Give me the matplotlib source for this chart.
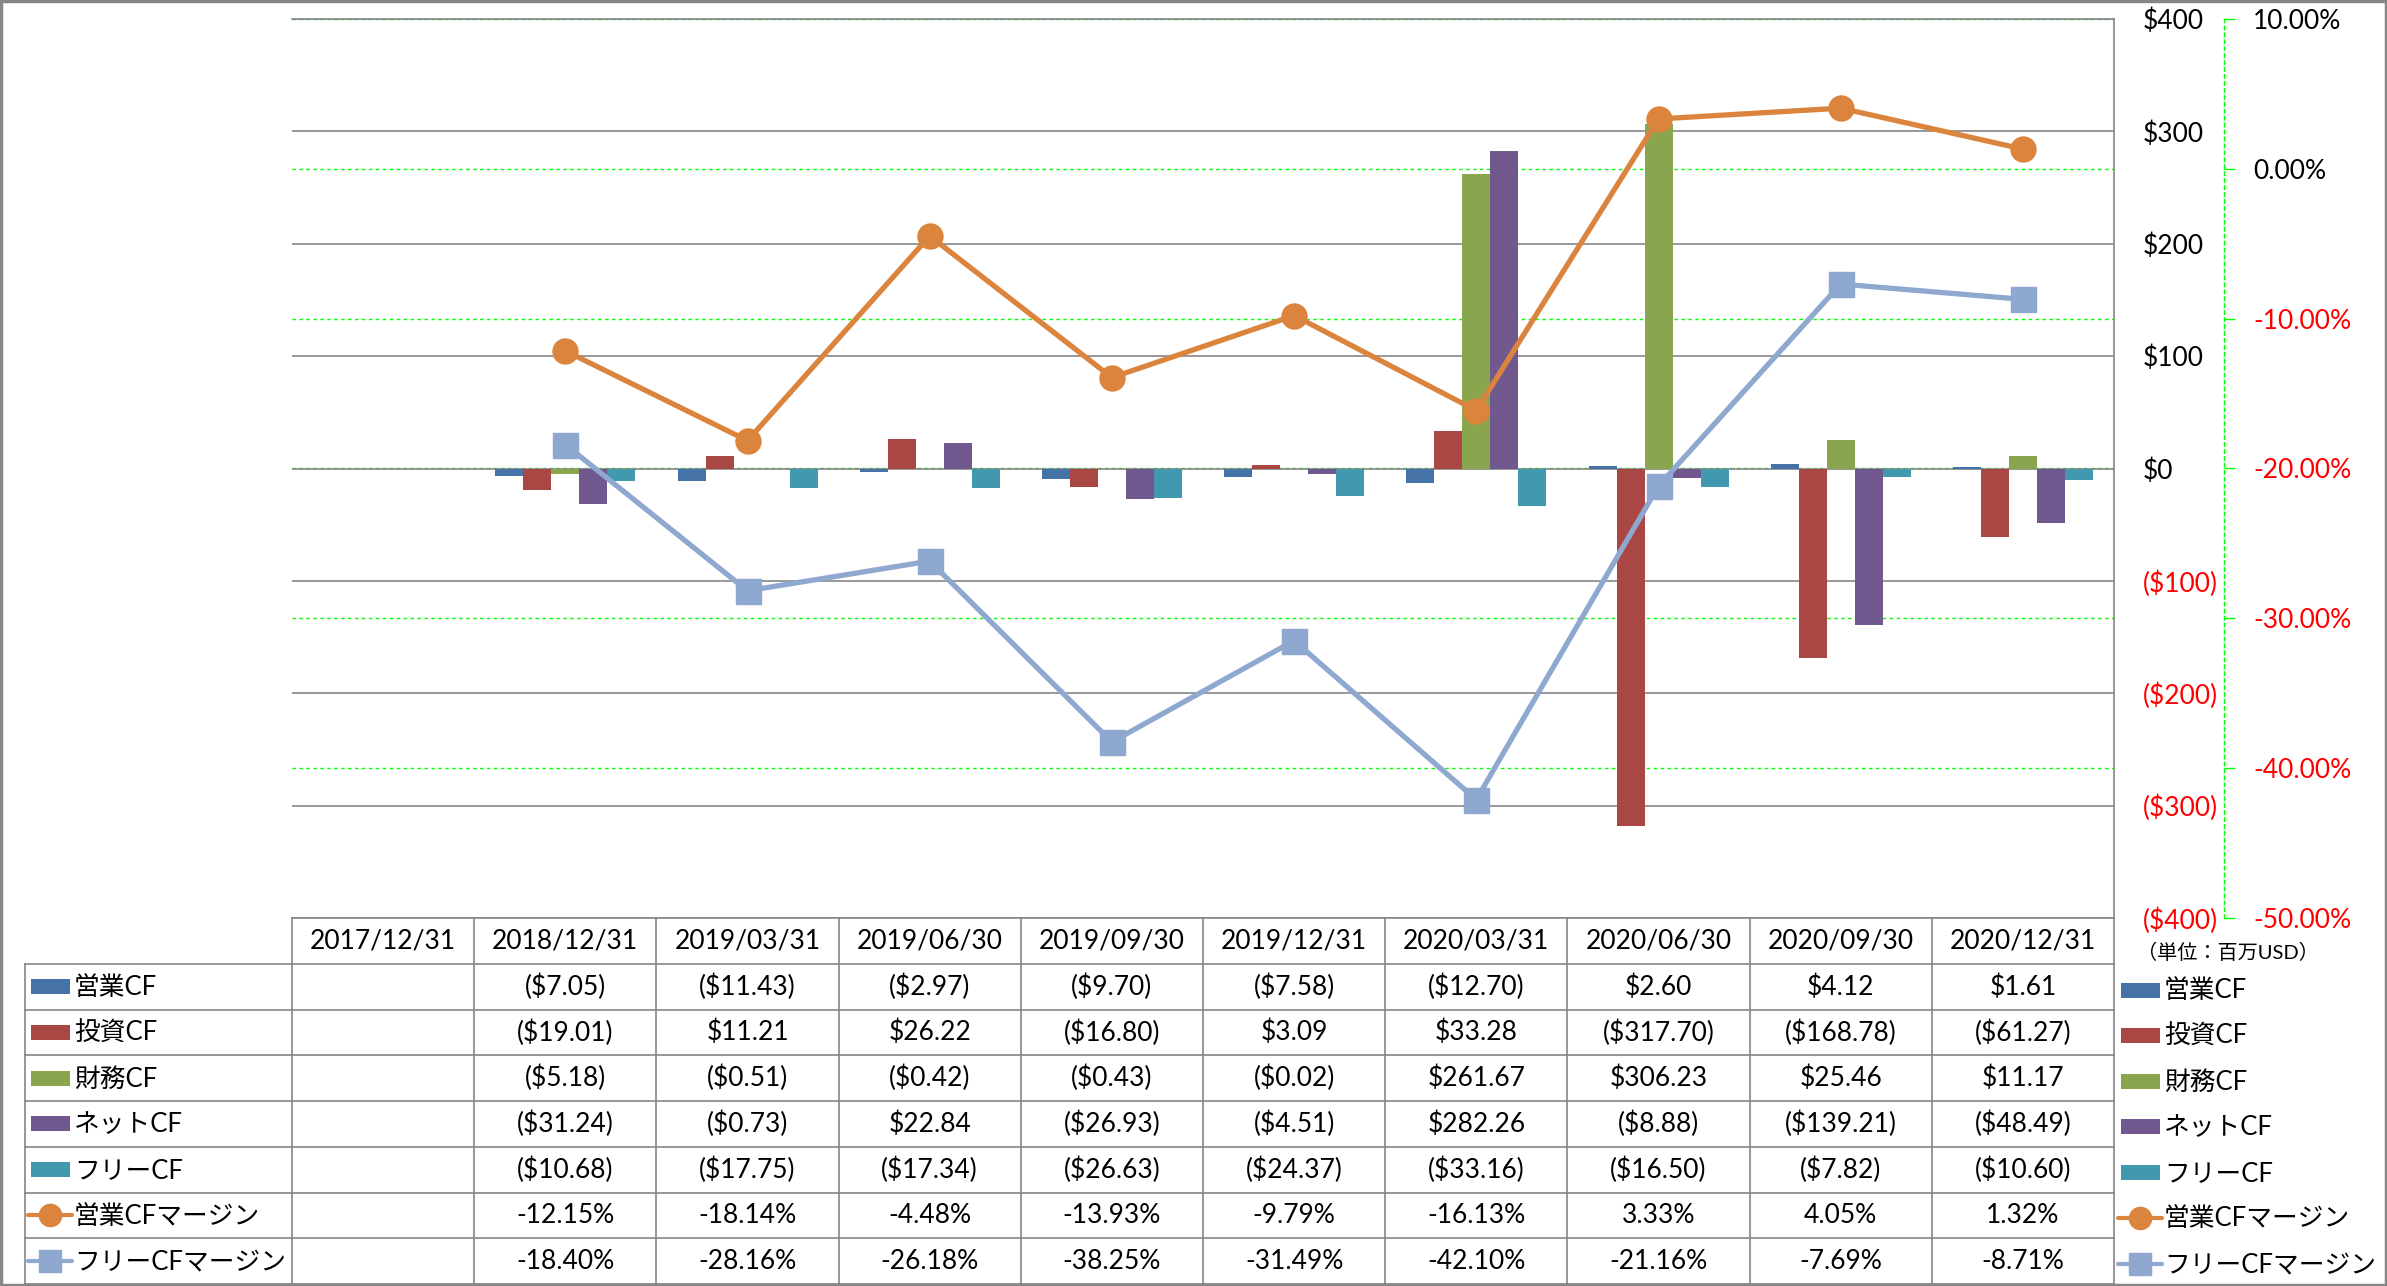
import numpy as np
import matplotlib
matplotlib.use("Agg")
import matplotlib.pyplot as plt
from matplotlib.transforms import blended_transform_factory
from matplotlib.patches import Rectangle

plt.rcParams['font.family'] = ['Lato', 'Noto Sans CJK JP', 'DejaVu Sans']

# ---- data ----
dates = ["2017/12/31", "2018/12/31", "2019/03/31", "2019/06/30", "2019/09/30",
         "2019/12/31", "2020/03/31", "2020/06/30", "2020/09/30", "2020/12/31"]
op_cf = [None, -7.05, -11.43, -2.97, -9.70, -7.58, -12.70, 2.60, 4.12, 1.61]
inv_cf = [None, -19.01, 11.21, 26.22, -16.80, 3.09, 33.28, -317.70, -168.78, -61.27]
fin_cf = [None, -5.18, -0.51, -0.42, -0.43, -0.02, 261.67, 306.23, 25.46, 11.17]
net_cf = [None, -31.24, -0.73, 22.84, -26.93, -4.51, 282.26, -8.88, -139.21, -48.49]
free_cf = [None, -10.68, -17.75, -17.34, -26.63, -24.37, -33.16, -16.50, -7.82, -10.60]
op_margin = [None, -12.15, -18.14, -4.48, -13.93, -9.79, -16.13, 3.33, 4.05, 1.32]
free_margin = [None, -18.40, -28.16, -26.18, -38.25, -31.49, -42.10, -21.16, -7.69, -8.71]

bar_names = ["営業CF", "投資CF", "財務CF", "ネットCF", "フリーCF"]
bar_series = [op_cf, inv_cf, fin_cf, net_cf, free_cf]
bar_colors = ["#4572A7", "#AA4643", "#89A54E", "#71588F", "#4198AF"]
line_names = ["営業CFマージン", "フリーCFマージン"]
line_series = [op_margin, free_margin]
line_colors = ["#DB843D", "#8EA8CF"]
line_markers = ["o", "s"]

money_ticks = list(range(-400, 401, 100))
pct_ticks = list(range(-50, 11, 10))


def arr(v):
    return np.array([np.nan if x is None else x for x in v], dtype=float)


def fmt_money(v):
    if v is None:
        return ""
    return f"(${-v:,.2f})" if v < 0 else f"${v:,.2f}"


def fmt_pct(v):
    return "" if v is None else f"{v:.2f}%"


W, H = 2387, 1286
fig = plt.figure(figsize=(W / 100, H / 100), dpi=100)
fig.patch.set_facecolor("white")

left, right, top, bottom = 292, 2114, 19, 918
rect = [left / W, 1 - bottom / H, (right - left) / W, (bottom - top) / H]
GRAY = "#868686"
GREEN = "#00FF00"
FS = 19
FS_KEY = 18.5
PT = 0.72  # px -> pt

# secondary axis background (green grid + axis)
axg = fig.add_axes(rect, zorder=0)
for s in ["left", "top", "bottom"]:
    axg.spines[s].set_visible(False)
axg.spines["right"].set_position(("outward", 110 * PT))
axg.spines["right"].set_color(GREEN)
axg.spines["right"].set_linestyle((0, (2.5, 2.5)))
axg.spines["right"].set_linewidth(1)
axg.set_xlim(-0.5, len(dates) - 0.5)
axg.set_ylim(-50, 10)
axg.set_xticks([])
axg.yaxis.tick_right()
axg.tick_params(axis="y", direction="out", length=11 * PT, width=1, color=GREEN,
                pad=18 * PT, labelsize=FS)
axg.set_yticks(pct_ticks, [f"{t:.2f}%" for t in pct_ticks])
for lab, t in zip(axg.get_yticklabels(), pct_ticks):
    lab.set_color("#FF0000" if t < 0 else "black")
axg.grid(axis="y", color=GREEN, linestyle=(0, (2.5, 2.5)), linewidth=1)

# primary axis: bars
ax = fig.add_axes(rect, zorder=1)
ax.patch.set_visible(False)
x = np.arange(len(dates))
bw = 28 / ((right - left) / len(dates))
for i, (vals, c) in enumerate(zip(bar_series, bar_colors)):
    ax.bar(x + (i - 2) * bw, arr(vals), width=bw, color=c, zorder=2)
ax.set_xlim(-0.5, len(dates) - 0.5)
ax.set_ylim(-400, 400)
ax.set_xticks([])
ax.yaxis.tick_right()
ax.tick_params(axis="y", length=0, pad=29 * PT, labelsize=FS)
labels = [("$0" if t == 0 else (f"(${-t})" if t < 0 else f"${t}")) for t in money_ticks]
ax.set_yticks(money_ticks, labels)
for lab, t in zip(ax.get_yticklabels(), money_ticks):
    lab.set_color("#FF0000" if t < 0 else "black")
ax.grid(axis="y", color=GRAY, linewidth=1.2, zorder=0)
ax.set_axisbelow(True)
for s in ["left", "bottom"]:
    ax.spines[s].set_visible(False)
for s in ["right", "top"]:
    ax.spines[s].set_color(GRAY)
    ax.spines[s].set_linewidth(1.2)

# margin lines
axl = fig.add_axes(rect, zorder=2)
axl.patch.set_visible(False)
axl.set_xlim(-0.5, len(dates) - 0.5)
axl.set_ylim(-50, 10)
axl.axis("off")
for vals, c, m in zip(line_series, line_colors, line_markers):
    axl.plot(x, arr(vals), color=c, linewidth=3.8, marker=m, markersize=18,
             markerfacecolor=c, markeredgecolor=c, solid_capstyle="round", clip_on=False)

# data table (pixel coordinates vertically, categories horizontally)
axt = fig.add_axes([0, 0, 1, 1], zorder=5)
axt.patch.set_visible(False)
axt.set_xlim(0, W)
axt.set_ylim(H, 0)
axt.axis("off")
trans = blended_transform_factory(ax.transData, axt.transData)

row_top = 964
row_h = 45.7
n_rows = 7
table_bottom = row_top + row_h * n_rows

axt.plot([left, right], [bottom, bottom], color=GRAY, lw=1.2)
for r in range(n_rows + 1):
    y = row_top + r * row_h
    axt.plot([25, right], [y, y], color=GRAY, lw=1.2)
axt.plot([25, 25], [row_top, table_bottom], color=GRAY, lw=1.2)
for k in range(len(dates) + 1):
    axt.plot([k - 0.5, k - 0.5], [bottom, table_bottom], color=GRAY, lw=1.2, transform=trans)

for k, d in enumerate(dates):
    axt.text(k, (bottom + row_top) / 2, d, transform=trans, ha="center", va="center", fontsize=FS)

rows = [(n, [fmt_money(v) for v in s]) for n, s in zip(bar_names, bar_series)]
rows += [(n, [fmt_pct(v) for v in s]) for n, s in zip(line_names, line_series)]
for r, (name, cells) in enumerate(rows):
    yc = row_top + (r + 0.5) * row_h
    for k, txt in enumerate(cells):
        axt.text(k, yc, txt, transform=trans, ha="center", va="center", fontsize=FS)


def draw_key(x0, yc, idx):
    if idx < len(bar_colors):
        axt.add_patch(Rectangle((x0 + 3, yc - 7.5), 39, 15, color=bar_colors[idx], lw=0))
    else:
        j = idx - len(bar_colors)
        axt.plot([x0, x0 + 44], [yc, yc], color=line_colors[j], lw=3, solid_capstyle="round")
        axt.plot([x0 + 22], [yc], marker=line_markers[j], markersize=16,
                 color=line_colors[j], markeredgecolor=line_colors[j])


all_names = bar_names + line_names
for r, name in enumerate(all_names):
    yc = row_top + (r + 0.5) * row_h
    draw_key(28, yc, r)
    axt.text(74, yc + 1, name, ha="left", va="center", fontsize=FS_KEY)
    ly = 990 + r * 45.6
    draw_key(2118, ly, r)
    axt.text(2164, ly + 1, name, ha="left", va="center", fontsize=FS_KEY)

axt.text(2228, 952, "（単位：百万USD）", ha="center", va="center", fontsize=14.5)

# chart border
axt.add_patch(Rectangle((1, 1), W - 2, H - 2, fill=False, edgecolor=GRAY, lw=2.5))

fig.savefig("out.png", dpi=100)
